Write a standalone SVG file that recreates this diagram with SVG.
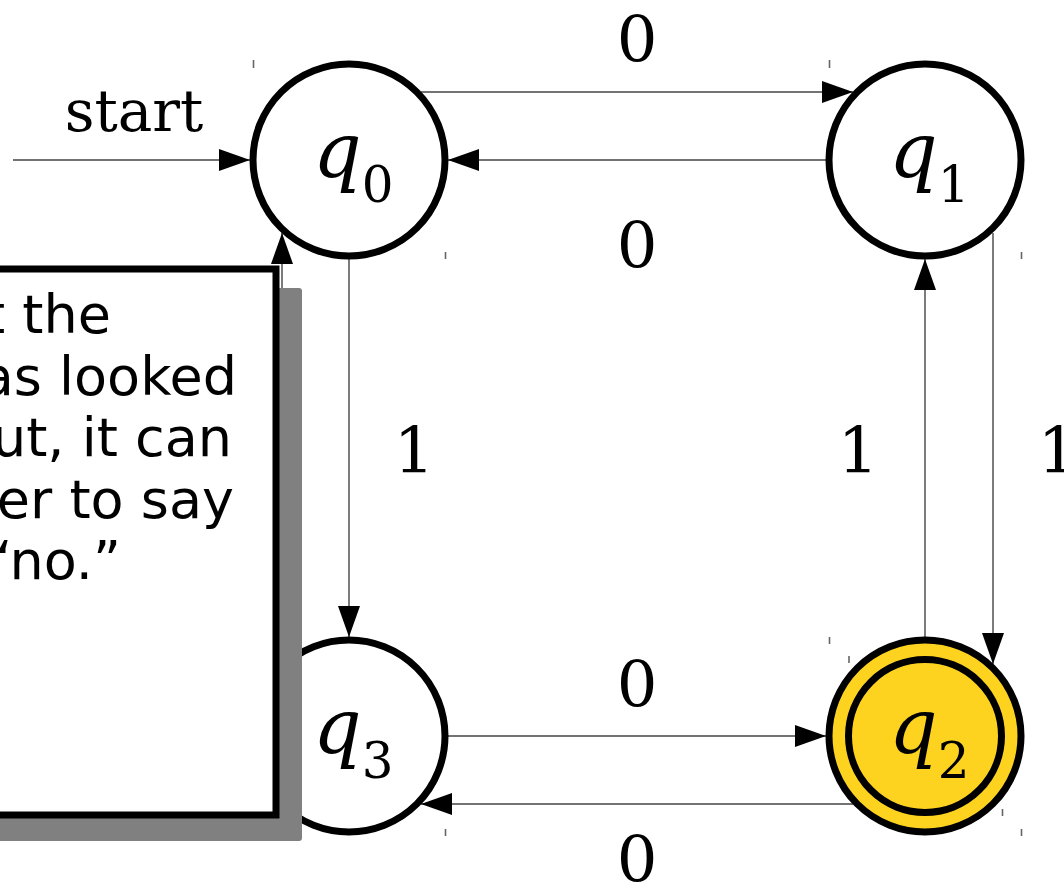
<svg xmlns="http://www.w3.org/2000/svg" width="1064" height="888" viewBox="0 0 1064 888">
<defs>
<marker id="ah" markerUnits="userSpaceOnUse" markerWidth="32" markerHeight="24" refX="31" refY="11" orient="auto">
<path d="M0,0 L31,11 L0,22 z" fill="#000"/>
</marker>
<style>
.st{fill:#fff;stroke:#000;stroke-width:7}
.acc{fill:#fdd320;stroke:#000;stroke-width:7}
.ed{fill:none;stroke:#444;stroke-width:1.4;marker-end:url(#ah)}
.tk{stroke:#666;stroke-width:1.6}
.q{font-family:"DejaVu Serif",serif;font-style:italic;font-size:76px;fill:#000}
.sub{font-family:"DejaVu Serif",serif;font-style:normal;font-size:50px}
.lb{font-family:"DejaVu Serif",serif;font-size:64px;fill:#000;text-anchor:middle}
.nt{font-family:"DejaVu Sans",sans-serif;font-size:54px;fill:#000;text-anchor:end}
</style>
</defs>
<rect width="1064" height="888" fill="#fff"/>
<g id="ticks">
<line class="tk" x1="253.5" y1="60" x2="253.5" y2="68"/>
<line class="tk" x1="445.5" y1="252" x2="445.5" y2="259"/>
<line class="tk" x1="829.5" y1="60" x2="829.5" y2="68"/>
<line class="tk" x1="1021.5" y1="252" x2="1021.5" y2="259"/>
<line class="tk" x1="829.5" y1="637" x2="829.5" y2="644"/>
<line class="tk" x1="1021.5" y1="829" x2="1021.5" y2="836"/>
<line class="tk" x1="849" y1="656" x2="849" y2="663"/>
<line class="tk" x1="1002.5" y1="809" x2="1002.5" y2="816"/>
<line class="tk" x1="253.5" y1="637" x2="253.5" y2="644"/>
<line class="tk" x1="445.5" y1="829" x2="445.5" y2="836"/>
</g>
<g id="connectors">
<line class="ed" x1="13" y1="160" x2="250" y2="160"/>
<line class="ed" x1="421" y1="92" x2="853" y2="92"/>
<line class="ed" x1="826" y1="160" x2="448" y2="160"/>
<line class="ed" x1="349" y1="259" x2="349" y2="637"/>
<line class="ed" x1="282" y1="663" x2="282" y2="233"/>
<line class="ed" x1="993" y1="233" x2="993" y2="664"/>
<line class="ed" x1="925" y1="637" x2="925" y2="259"/>
<line class="ed" x1="448" y1="736" x2="826" y2="736"/>
<line class="ed" x1="853" y1="804" x2="421" y2="804"/>
</g>
<g id="labels">
<text x="134" y="131" font-family="DejaVu Serif, serif" font-size="58" text-anchor="middle">start</text>
<text class="lb" x="637" y="62">0</text>
<text class="lb" x="637" y="268">0</text>
<text class="lb" x="414" y="473">1</text>
<text class="lb" x="858" y="473">1</text>
<text class="lb" x="1058" y="473">1</text>
<text class="lb" x="637" y="707">0</text>
<text class="lb" x="637" y="882">0</text>
</g>
<g id="q0">
<circle class="st" cx="349" cy="160" r="96"/>
<text class="q" x="313" y="177">q<tspan class="sub" dy="25">0</tspan></text>
</g>
<g id="q1">
<circle class="st" cx="925" cy="160" r="96"/>
<text class="q" x="889" y="177">q<tspan class="sub" dy="25">1</tspan></text>
</g>
<g id="q2">
<circle class="acc" cx="925" cy="736" r="96"/>
<circle fill="none" stroke="#000" stroke-width="7" cx="925" cy="736" r="76.5"/>
<text class="q" x="889" y="753">q<tspan class="sub" dy="25">2</tspan></text>
</g>
<g id="q3">
<circle class="st" cx="349" cy="736" r="96"/>
<text class="q" x="313" y="753">q<tspan class="sub" dy="25">3</tspan></text>
</g>
<g id="note">
<rect x="-300" y="288" width="602" height="553" rx="3" fill="#808080"/>
<rect x="-330" y="269" width="606" height="546" class="st"/>
<text class="nt" x="111" y="333">t the</text>
<text class="nt" x="237" y="395">as looked</text>
<text class="nt" x="232" y="456">ut, it can</text>
<text class="nt" x="234" y="518">er to say</text>
<text class="nt" x="121" y="579">“no.”</text>
</g>
</svg>
